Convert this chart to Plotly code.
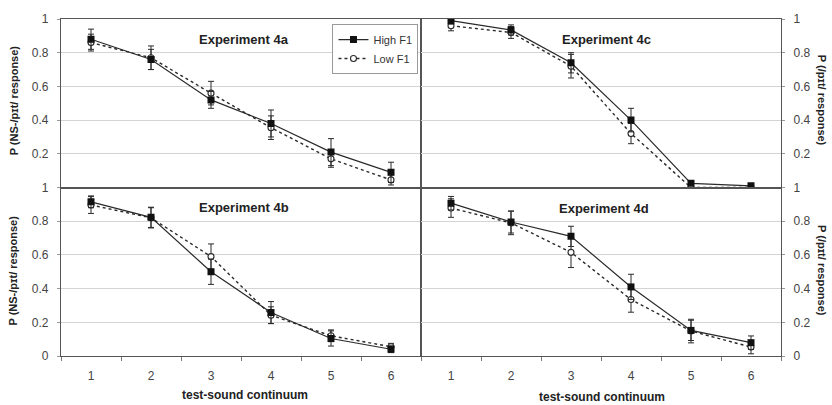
import plotly.graph_objects as go
from plotly.subplots import make_subplots

# test-sound continuum steps
steps = [1, 2, 3, 4, 5, 6]

# Experiment 4a
exp4a_high = [0.88, 0.76, 0.52, 0.38, 0.21, 0.09]
exp4a_high_err = [0.06, 0.06, 0.05, 0.08, 0.08, 0.06]
exp4a_low = [0.86, 0.77, 0.56, 0.355, 0.17, 0.045]
exp4a_low_err = [0.05, 0.07, 0.07, 0.07, 0.05, 0.03]

# Experiment 4b
exp4b_high = [0.915, 0.823, 0.50, 0.258, 0.104, 0.04]
exp4b_high_err = [0.035, 0.06, 0.075, 0.065, 0.045, 0.02]
exp4b_low = [0.896, 0.82, 0.59, 0.242, 0.12, 0.055]
exp4b_low_err = [0.05, 0.06, 0.075, 0.05, 0.035, 0.02]

# Experiment 4c
exp4c_high = [0.99, 0.935, 0.74, 0.40, 0.025, 0.01]
exp4c_high_err = [0.02, 0.03, 0.06, 0.07, 0.01, 0.01]
exp4c_low = [0.96, 0.92, 0.72, 0.32, 0.0, 0.0]
exp4c_low_err = [0.03, 0.035, 0.07, 0.06, 0.01, 0.01]

# Experiment 4d
exp4d_high = [0.907, 0.795, 0.71, 0.41, 0.152, 0.079]
exp4d_high_err = [0.04, 0.065, 0.06, 0.075, 0.06, 0.04]
exp4d_low = [0.878, 0.79, 0.615, 0.335, 0.148, 0.053]
exp4d_low_err = [0.055, 0.07, 0.09, 0.075, 0.07, 0.04]

panel_titles = ["Experiment 4a", "Experiment 4c", "Experiment 4b", "Experiment 4d"]
series_names = ["High F1", "Low F1"]
x_title = "test-sound continuum"
left_y_title = "P (NS-/pɪt/ response)"
right_y_title = "P (/pɪt/ response)"

FONT = "Arial, Liberation Sans, sans-serif"
INK = "#2a2a2a"

panels = [
    (1, 1, exp4a_high, exp4a_high_err, exp4a_low, exp4a_low_err),
    (1, 2, exp4c_high, exp4c_high_err, exp4c_low, exp4c_low_err),
    (2, 1, exp4b_high, exp4b_high_err, exp4b_low, exp4b_low_err),
    (2, 2, exp4d_high, exp4d_high_err, exp4d_low, exp4d_low_err),
]

fig = make_subplots(rows=2, cols=2, horizontal_spacing=0, vertical_spacing=0)

low_line = dict(color=INK, width=1.4, dash="dot")
low_marker = dict(symbol="circle", size=6, color="white", line=dict(color=INK, width=1.1))
high_line = dict(color=INK, width=1.2)
high_marker = dict(symbol="square", size=7, color="#111111")

for i, (r, c, hi, hi_err, lo, lo_err) in enumerate(panels):
    fig.add_trace(go.Scatter(
        x=steps, y=lo, name=series_names[1], mode="lines+markers",
        line=low_line, marker=low_marker,
        error_y=dict(type="data", array=lo_err, color=INK, thickness=1, width=3),
        showlegend=False,
    ), row=r, col=c)
    fig.add_trace(go.Scatter(
        x=steps, y=hi, name=series_names[0], mode="lines+markers",
        line=high_line, marker=high_marker,
        error_y=dict(type="data", array=hi_err, color=INK, thickness=1, width=3),
        showlegend=(i == 0), legendrank=1,
    ), row=r, col=c)
    if i == 0:
        # legend entry for the dotted series, drawn without error bars
        fig.add_trace(go.Scatter(
            x=[None], y=[None], name=series_names[1], mode="lines+markers",
            line=low_line, marker=low_marker,
            showlegend=True, legendrank=2,
        ), row=r, col=c)

for r in (1, 2):
    for c in (1, 2):
        fig.update_xaxes(
            range=[0.5, 6.5], tickvals=steps, ticktext=[str(s) for s in steps],
            showticklabels=(r == 2), ticks="", showgrid=False, zeroline=False,
            showline=True, mirror=True, linecolor="#555555", linewidth=1.2,
            minor=dict(tick0=0.5, dtick=1, ticks="outside" if r == 2 else "",
                       ticklen=4, tickcolor="#777777", showgrid=False),
            tickfont=dict(family=FONT, size=12, color="#444444"),
            ticklabelstandoff=8,
            row=r, col=c)
        tv = [0.2, 0.4, 0.6, 0.8, 1.0] if r == 1 else [0, 0.2, 0.4, 0.6, 0.8, 1.0]
        fig.update_yaxes(
            range=[0, 1], tickvals=tv, ticktext=[f"{v:g}" for v in tv],
            side="left" if c == 1 else "right",
            showgrid=True, gridcolor="#d4d4d4", gridwidth=1,
            zeroline=False, showline=True, mirror=True,
            linecolor="#555555", linewidth=1.2,
            ticks="outside", ticklen=3, tickcolor="#999999",
            tickfont=dict(family=FONT, size=12, color="#444444"),
            ticklabelstandoff=6,
            row=r, col=c)

annotations = []
title_pos = [(0.254, 0.938), (0.757, 0.938), (0.254, 0.440), (0.754, 0.437)]
for t, (x, y) in zip(panel_titles, title_pos):
    annotations.append(dict(text=f"<b>{t}</b>", x=x, y=y, xref="paper", yref="paper",
                            xanchor="center", yanchor="middle", showarrow=False,
                            font=dict(family=FONT, size=13, color="#222222")))

for x, y in [(0.256, -0.115), (0.752, -0.122)]:
    annotations.append(dict(text=f"<b>{x_title}</b>", x=x, y=y, xref="paper", yref="paper",
                            xanchor="center", yanchor="middle", showarrow=False,
                            font=dict(family=FONT, size=12, color="#222222")))

for y in (0.76, 0.255):
    annotations.append(dict(text=f"<b>{left_y_title}</b>", x=-0.066, y=y, xref="paper",
                            yref="paper", xanchor="center", yanchor="middle",
                            textangle=-90, showarrow=False,
                            font=dict(family=FONT, size=11, color="#222222")))
    annotations.append(dict(text=f"<b>{right_y_title}</b>", x=1.057, y=y, xref="paper",
                            yref="paper", xanchor="center", yanchor="middle",
                            textangle=90, showarrow=False,
                            font=dict(family=FONT, size=11, color="#222222")))

fig.update_layout(
    width=832, height=405,
    margin=dict(l=61, r=51, t=16, b=49),
    paper_bgcolor="white", plot_bgcolor="white",
    font=dict(family=FONT, color="#333333"),
    annotations=annotations,
    legend=dict(x=0.4965, y=0.985, xanchor="right", yanchor="top",
                bgcolor="white", bordercolor="#999999", borderwidth=1,
                font=dict(family=FONT, size=11, color="#333333"),
                itemwidth=30, tracegroupgap=0),
)

fig.write_html("out.html")
